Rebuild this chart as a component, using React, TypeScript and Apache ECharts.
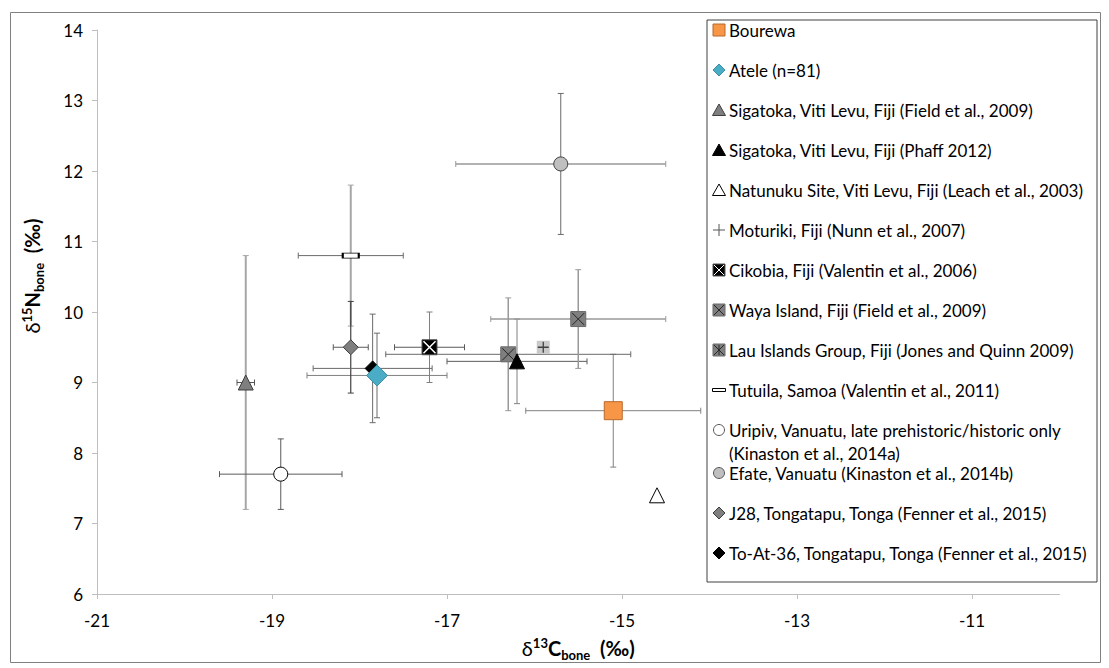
import React, { useEffect, useRef } from "react";
import * as echarts from "echarts";

// ---------- data ----------
const sites = [
  "Bourewa",
  "Atele (n=81)",
  "Sigatoka, Viti Levu, Fiji (Field et al., 2009)",
  "Sigatoka, Viti Levu, Fiji (Phaff 2012)",
  "Natunuku Site, Viti Levu, Fiji (Leach et al., 2003)",
  "Moturiki, Fiji (Nunn et al., 2007)",
  "Cikobia, Fiji (Valentin et al., 2006)",
  "Waya Island, Fiji (Field et al., 2009)",
  "Lau Islands Group, Fiji (Jones and Quinn 2009)",
  "Tutuila, Samoa (Valentin et al., 2011)",
  "Uripiv, Vanuatu, late prehistoric/historic only (Kinaston et al., 2014a)",
  "Efate, Vanuatu (Kinaston et al., 2014b)",
  "J28, Tongatapu, Tonga (Fenner et al., 2015)",
  "To-At-36, Tongatapu, Tonga (Fenner et al., 2015)",
];
const legendLabels = [
  "Bourewa",
  "Atele (n=81)",
  "Sigatoka, Viti Levu, Fiji (Field et al., 2009)",
  "Sigatoka, Viti Levu, Fiji (Phaff 2012)",
  "Natunuku Site, Viti Levu, Fiji (Leach et al., 2003)",
  "Moturiki, Fiji (Nunn et al., 2007)",
  "Cikobia, Fiji (Valentin et al., 2006)",
  "Waya Island, Fiji (Field et al., 2009)",
  "Lau Islands Group, Fiji (Jones and Quinn 2009)",
  "Tutuila, Samoa (Valentin et al., 2011)",
  "Uripiv, Vanuatu, late prehistoric/historic only\n(Kinaston et al., 2014a)",
  "Efate, Vanuatu (Kinaston et al., 2014b)",
  "J28, Tongatapu, Tonga (Fenner et al., 2015)",
  "To-At-36, Tongatapu, Tonga (Fenner et al., 2015)",
];
const d13C = [-15.1, -17.8, -19.3, -16.2, -14.6, -15.9, -17.2, -16.3, -15.5, -18.1, -18.9, -15.7, -18.1, -17.85];
const d15N = [8.6, 9.1, 9.0, 9.3, 7.4, 9.5, 9.5, 9.4, 9.9, 10.8, 7.7, 12.1, 9.5, 9.2];
const d13CErr = [1.0, 0.8, 0.1, 0.8, 0, 0, 0.4, 1.4, 1.0, 0.6, 0.7, 1.2, 0.2, 0.68];
const d15NErr = [0.8, 0.6, 1.8, 0.6, 0, 0, 0.5, 0.8, 0.7, 1.0, 0.5, 1.0, 0.65, 0.77];
const xTicks = [-21, -19, -17, -15, -13, -11];
const yTicks = [6, 7, 8, 9, 10, 11, 12, 13, 14];

// ---------- styles ----------
type Spec = {
  symbol: string;
  size: number | number[];
  fill: string;
  stroke: string;
  lw: number;
  overlay?: string;
  ovColor?: string;
  ovSize?: number;
  ovLw?: number;
  barColorX: string;
  barColorY: string;
  barWX: number;
  barWY: number;
};
const G = "#808080";
const specs: Spec[] = [
  { symbol: "rect", size: 18, fill: "#F79646", stroke: "#B8692C", lw: 1, barColorX: G, barColorY: G, barWX: 1, barWY: 1 },
  { symbol: "diamond", size: 21, fill: "#4BACC6", stroke: "#3B8EA5", lw: 1, barColorX: G, barColorY: "#6a6a6a", barWX: 1, barWY: 1 },
  { symbol: "triangle", size: 15, fill: "#7F7F7F", stroke: "#3f3f3f", lw: 1, barColorX: "#555", barColorY: "#a6a6a6", barWX: 1, barWY: 2 },
  { symbol: "triangle", size: 15, fill: "#000000", stroke: "#000000", lw: 1, barColorX: "#5a5a5a", barColorY: G, barWX: 1, barWY: 1 },
  { symbol: "triangle", size: 15, fill: "#ffffff", stroke: "#000000", lw: 1, barColorX: G, barColorY: G, barWX: 1, barWY: 1 },
  { symbol: "rect", size: 13, fill: "#C9C9C9", stroke: "#C9C9C9", lw: 0, overlay: "path://M5,0L5,10M0,5L10,5", ovColor: "#404040", ovSize: 11, ovLw: 1.3, barColorX: G, barColorY: G, barWX: 1, barWY: 1 },
  { symbol: "rect", size: 15, fill: "#000000", stroke: "#555555", lw: 1, overlay: "path://M0,0L10,10M10,0L0,10", ovColor: "#ffffff", ovSize: 12, ovLw: 1.5, barColorX: "#5a5a5a", barColorY: G, barWX: 1, barWY: 1 },
  { symbol: "rect", size: 15, fill: "#7F7F7F", stroke: "#6a6a6a", lw: 1, overlay: "path://M0,0L10,10M10,0L0,10", ovColor: "#262626", ovSize: 12, ovLw: 1, barColorX: "#6a6a6a", barColorY: "#999999", barWX: 1, barWY: 1.5 },
  { symbol: "rect", size: 15, fill: "#7F7F7F", stroke: "#6a6a6a", lw: 1, overlay: "path://M0,0L10,10M10,0L0,10", ovColor: "#262626", ovSize: 12, ovLw: 1, barColorX: "#999999", barColorY: "#999999", barWX: 1.5, barWY: 1.5 },
  { symbol: "rect", size: [16, 5], fill: "#ffffff", stroke: "#000000", lw: 1.2, barColorX: "#6a6a6a", barColorY: "#a6a6a6", barWX: 1, barWY: 2 },
  { symbol: "circle", size: 14, fill: "#ffffff", stroke: "#000000", lw: 1, barColorX: "#5a5a5a", barColorY: "#5a5a5a", barWX: 1, barWY: 1 },
  { symbol: "circle", size: 14, fill: "#BFBFBF", stroke: "#404040", lw: 1, barColorX: "#999999", barColorY: "#6a6a6a", barWX: 1.5, barWY: 1 },
  { symbol: "diamond", size: 15, fill: "#7F7F7F", stroke: "#3f3f3f", lw: 1, barColorX: "#5a5a5a", barColorY: "#404040", barWX: 1, barWY: 1.2 },
  { symbol: "diamond", size: 15, fill: "#000000", stroke: "#000000", lw: 1, barColorX: "#6a6a6a", barColorY: "#6a6a6a", barWX: 1, barWY: 1 },
];
// marker draw order (later = on top)
const drawOrder = [2, 4, 5, 6, 7, 8, 9, 10, 11, 12, 13, 3, 0, 1];

const FONT = "Lato, 'Liberation Sans', sans-serif";

function legendIcon(i: number, cx: number, cy: number): any[] {
  const s = specs[i];
  const style = { fill: s.fill, stroke: s.lw ? s.stroke : null, lineWidth: s.lw };
  const out: any[] = [];
  const h = 6;
  if (s.symbol === "rect") {
    if (Array.isArray(s.size)) {
      out.push({ type: "rect", shape: { x: cx - 6.5, y: cy - 1.5, width: 13, height: 3 }, style: { fill: "#fff", stroke: "#000", lineWidth: 1 } });
    } else {
      out.push({ type: "rect", shape: { x: cx - h, y: cy - h, width: 2 * h, height: 2 * h }, style });
    }
  } else if (s.symbol === "diamond") {
    out.push({ type: "polygon", shape: { points: [[cx, cy - h], [cx + h, cy], [cx, cy + h], [cx - h, cy]] }, style });
  } else if (s.symbol === "triangle") {
    out.push({ type: "polygon", shape: { points: [[cx, cy - h], [cx + 6.5, cy + 5.5], [cx - 6.5, cy + 5.5]] }, style });
  } else if (s.symbol === "circle") {
    out.push({ type: "circle", shape: { cx, cy, r: 5.5 }, style: { fill: s.fill, stroke: "#555", lineWidth: 1 } });
  }
  if (s.overlay) {
    const ls = { stroke: s.ovColor, lineWidth: 1 };
    if (s.overlay.indexOf("M5,0L5,10") >= 0) {
      out.length = 0;
      out.push({ type: "line", shape: { x1: cx - 6, y1: cy, x2: cx + 6, y2: cy }, style: { stroke: "#555", lineWidth: 1 } });
      out.push({ type: "line", shape: { x1: cx, y1: cy - 6, x2: cx, y2: cy + 6 }, style: { stroke: "#555", lineWidth: 1 } });
    } else {
      out.push({ type: "line", shape: { x1: cx - 5, y1: cy - 5, x2: cx + 5, y2: cy + 5 }, style: ls });
      out.push({ type: "line", shape: { x1: cx + 5, y1: cy - 5, x2: cx - 5, y2: cy + 5 }, style: ls });
      if (i === 8) out.push({ type: "line", shape: { x1: cx, y1: cy - 5, x2: cx, y2: cy + 5 }, style: ls });
    }
  }
  return out;
}

export default function App() {
  const ref = useRef<HTMLDivElement>(null);
  useEffect(() => {
    document.body.style.margin = "0";
    const chart = echarts.init(ref.current!, null, { renderer: "svg" });

    const barData = sites.map((_, i) => [d13C[i], d15N[i], d13CErr[i], d15NErr[i], i]);

    const series: any[] = [
      {
        type: "custom",
        name: "error bars",
        z: 1,
        encode: { x: 0, y: 1 },
        data: barData,
        renderItem: (params: any, api: any) => {
          const x = api.value(0), y = api.value(1), ex = api.value(2), ey = api.value(3);
          const s = specs[api.value(4)];
          const ch: any[] = [];
          const cap = 3;
          if (ex > 0) {
            const l = api.coord([x - ex, y]);
            const r = api.coord([x + ex, y]);
            const st = { stroke: s.barColorX, lineWidth: s.barWX };
            ch.push({ type: "line", shape: { x1: l[0], y1: l[1], x2: r[0], y2: r[1] }, style: st });
            ch.push({ type: "line", shape: { x1: l[0], y1: l[1] - cap, x2: l[0], y2: l[1] + cap }, style: { stroke: s.barColorX, lineWidth: 1 } });
            ch.push({ type: "line", shape: { x1: r[0], y1: r[1] - cap, x2: r[0], y2: r[1] + cap }, style: { stroke: s.barColorX, lineWidth: 1 } });
          }
          if (ey > 0) {
            const t = api.coord([x, y + ey]);
            const b = api.coord([x, y - ey]);
            const st = { stroke: s.barColorY, lineWidth: s.barWY };
            ch.push({ type: "line", shape: { x1: t[0], y1: t[1], x2: b[0], y2: b[1] }, style: st });
            ch.push({ type: "line", shape: { x1: t[0] - cap, y1: t[1], x2: t[0] + cap, y2: t[1] }, style: { stroke: s.barColorY, lineWidth: 1 } });
            ch.push({ type: "line", shape: { x1: b[0] - cap, y1: b[1], x2: b[0] + cap, y2: b[1] }, style: { stroke: s.barColorY, lineWidth: 1 } });
          }
          return { type: "group", children: ch };
        },
      },
    ];

    drawOrder.forEach((i, k) => {
      const s = specs[i];
      series.push({
        type: "scatter",
        name: sites[i],
        z: 3 + k * 0.01,
        symbol: s.symbol,
        symbolSize: s.size,
        data: [[d13C[i], d15N[i]]],
        itemStyle: { color: s.fill, borderColor: s.stroke, borderWidth: s.lw, opacity: 1 },
      });
      if (s.overlay) {
        series.push({
          type: "scatter",
          name: sites[i] + " ",
          z: 3 + k * 0.01 + 0.005,
          symbol: s.overlay,
          symbolSize: s.ovSize,
          data: [[d13C[i], d15N[i]]],
          itemStyle: { color: "transparent", borderColor: s.ovColor, borderWidth: s.ovLw, opacity: 1 },
        });
      }
    });

    // legend
    const legX = 707, legY = 20, legW = 390, legH = 562;
    const rowY: number[] = [];
    let y = 30;
    for (let i = 0; i < legendLabels.length; i++) {
      rowY.push(y);
      y += legendLabels[i].indexOf("\n") >= 0 ? 43 : 40;
    }
    const legendChildren: any[] = [
      { type: "rect", shape: { x: legX, y: legY, width: legW, height: legH }, style: { fill: "#fff", stroke: "#404040", lineWidth: 1 } },
    ];
    legendLabels.forEach((lab, i) => {
      legendIcon(i, 719, rowY[i]).forEach((e) => legendChildren.push(e));
      legendChildren.push({
        type: "text",
        x: 729,
        y: rowY[i] - 11.5,
        style: { text: lab, fontSize: 17, fontFamily: FONT, fill: "#000", lineHeight: 23, verticalAlign: "top" },
      });
    });

    const rich = {
      d: { fontSize: 20, fontFamily: FONT, color: "#000", lineHeight: 28 },
      b: { fontSize: 20, fontFamily: FONT, fontWeight: "bold", color: "#000", lineHeight: 28 },
      sup: { fontSize: 13, fontFamily: FONT, fontWeight: "bold", color: "#000", verticalAlign: "top", lineHeight: 28, padding: [2, 0, 0, 0] },
      sub: { fontSize: 13, fontFamily: FONT, fontWeight: "bold", color: "#000", verticalAlign: "bottom", lineHeight: 28, padding: [0, 0, 1, 0] },
    };

    chart.setOption({
      animation: false,
      backgroundColor: "#fff",
      grid: { left: 97, top: 30, right: 49.5, bottom: 74, containLabel: false },
      xAxis: {
        type: "value",
        min: -21,
        max: -10,
        interval: 2,
        name: "{d|δ}{sup|13}{b|C}{sub|bone}{b|  (‰)}",
        nameLocation: "middle",
        nameGap: 40,
        nameTextStyle: { rich },
        axisLine: { show: true, lineStyle: { color: "#BFBFBF", width: 1 } },
        axisTick: { show: true, length: 5, lineStyle: { color: "#BFBFBF" }, customValues: xTicks },
        axisLabel: { color: "#000", fontSize: 17, fontFamily: FONT, margin: 18, customValues: xTicks },
        splitLine: { show: false },
      },
      yAxis: {
        type: "value",
        min: 6,
        max: 14,
        interval: 1,
        axisLine: { show: true, lineStyle: { color: "#BFBFBF", width: 1 } },
        axisTick: { show: true, length: 5, lineStyle: { color: "#BFBFBF" }, customValues: yTicks },
        axisLabel: { color: "#000", fontSize: 17, fontFamily: FONT, margin: 14, customValues: yTicks },
        splitLine: { show: false },
      },
      graphic: [
        { type: "rect", silent: true, z: -10, shape: { x: 10.5, y: 12.5, width: 1090, height: 650 }, style: { fill: "none", stroke: "#808080", lineWidth: 1 } },
        {
          type: "text",
          x: 32,
          y: 276,
          rotation: Math.PI / 2,
          style: {
            text: "{d|δ}{sup|15}{b|N}{sub|bone}{b|  (‰)}",
            rich,
            align: "center",
            verticalAlign: "middle",
          },
        },
        { type: "group", z: 50, children: legendChildren },
      ],
      series,
    });
    return () => chart.dispose();
  }, []);
  return <div ref={ref} style={{ width: 1109, height: 668 }} />;
}
